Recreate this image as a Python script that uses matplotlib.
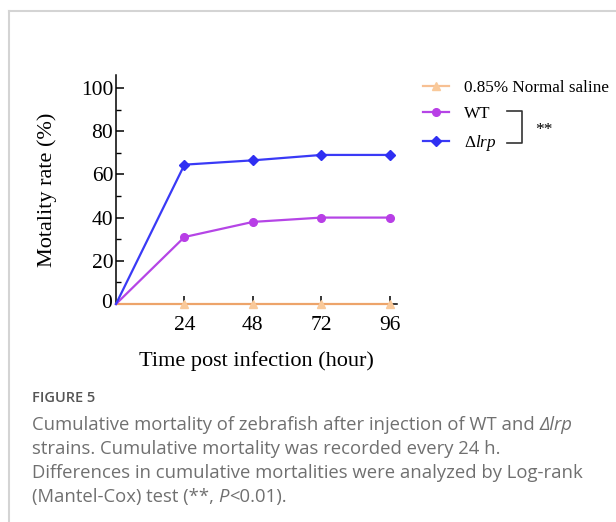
import matplotlib
matplotlib.use("Agg")
from matplotlib import pyplot as plt
from matplotlib.lines import Line2D
from matplotlib.text import Annotation

# data
hours = [0, 24, 48, 72, 96]
saline = [0, 0, 0, 0, 0]
wt = [0, 31, 38, 40, 40]
lrp = [0, 64.5, 66.5, 69, 69]
series_labels = ["0.85% Normal saline", "WT", r"$\Delta\mathit{lrp}$"]

plt.rcParams['font.family'] = ['Liberation Serif', 'DejaVu Serif']
plt.rcParams['mathtext.fontset'] = 'custom'
plt.rcParams['mathtext.rm'] = 'Liberation Serif'
plt.rcParams['mathtext.it'] = 'Liberation Serif:italic'

W, H = 616, 522
fig = plt.figure(figsize=(W / 100, H / 100), dpi=100)

def fx(px):
    return px / W

def fy(py):
    return 1 - py / H

# light frame at top and left
fig.add_artist(Line2D([fx(9), fx(615)], [fy(10.5), fy(10.5)], color='#d4d4d4', lw=1.5))
fig.add_artist(Line2D([fx(9), fx(9)], [fy(10.5), 0], color='#d4d4d4', lw=1.5))

ax = fig.add_axes([fx(116), fy(304), fx(397) - fx(116), fy(75) - fy(304)])

styles = [
    dict(color='#eda46a', marker='^', ms=5.5, mfc='#f9c99a', mec='#f9c99a'),
    dict(color='#b545e6', marker='o', ms=5.5, mfc='#b83ee6', mec='#b83ee6'),
    dict(color='#3a3af6', marker='D', ms=5, mfc='#2f2ff2', mec='#2f2ff2'),
]
handles = []
for z, (vals, st) in enumerate(zip([saline, wt, lrp], styles)):
    ax.plot(hours, vals, lw=1.6, clip_on=False, zorder=3 + z, markevery=[1, 2, 3, 4], **st)
    handles.append(Line2D([], [], lw=1.6, **st))
handles[0].set_color('#f7c093')

ax.set_xlim(0, 98.5)
ax.set_ylim(0, 106)
ax.set_xticks([24, 48, 72, 96])
ax.set_yticks([0, 20, 40, 60, 80, 100])
ax.set_yticks([10, 30, 50, 70, 90], minor=True)
ax.spines['top'].set_visible(False)
ax.spines['right'].set_visible(False)
for s in ('left', 'bottom'):
    ax.spines[s].set_linewidth(1.1)
ax.tick_params(axis='both', which='major', direction='in', length=6, width=1.1,
               labelsize=15.5, pad=2)
ax.tick_params(axis='y', which='minor', direction='in', length=3.5, width=1.0)
ax.tick_params(axis='x', which='major', pad=9)
ax.text(-1.5, 0, '0', ha='right', va='center', fontsize=15.5)
ax.set_yticklabels(['', '20', '40', '60', '80', '100'])

ax.set_xlabel('Time post infection (hour)', fontsize=16, labelpad=11)
ax.set_ylabel('Motality rate (%)', fontsize=16, labelpad=17)

fig.legend(handles, series_labels, loc='upper left', numpoints=1,
           bbox_to_anchor=(fx(423), fy(79.5)), frameon=False, fontsize=12.3,
           handlelength=1.55, handletextpad=0.85, labelspacing=0.62,
           borderaxespad=0, borderpad=0)

# significance bracket
fig.add_artist(Line2D([fx(507), fx(522), fx(522), fx(507)],
                      [fy(111), fy(111), fy(143), fy(143)], color='#333333', lw=1.2))
fig.text(fx(535), fy(130), '**', fontsize=12.5, va='center', ha='left')

# caption
cap_font = ['Open Sans', 'DejaVu Sans']
cap_kw = dict(family=cap_font, fontsize=13.3, color='#707070', va='center')
fig.text(fx(32), fy(398), 'FIGURE 5', family=cap_font, fontsize=10.5, color='#555555',
         va='center', fontweight='semibold')

def caption_line(parts, x, y):
    prev = fig.text(fx(x), fy(y), parts[0][0], style=parts[0][1], **cap_kw)
    for txt, st in parts[1:]:
        prev = fig.add_artist(Annotation(txt, xy=(1, 0.5), xycoords=prev, ha='left',
                                         style=st, annotation_clip=False, **cap_kw))

caption_line([('Cumulative mortality of zebrafish after injection of WT and ', 'normal'),
              ('\u0394lrp', 'italic')], 32, 425)
fig.text(fx(32), fy(449), 'strains. Cumulative mortality was recorded every 24 h.', **cap_kw)
fig.text(fx(32), fy(473), 'Differences in cumulative mortalities were analyzed by Log-rank', **cap_kw)
caption_line([('(Mantel-Cox) test (**, ', 'normal'), ('P', 'italic'), ('<0.01).', 'normal')],
             32, 497)

fig.savefig('out.png', dpi=100)
